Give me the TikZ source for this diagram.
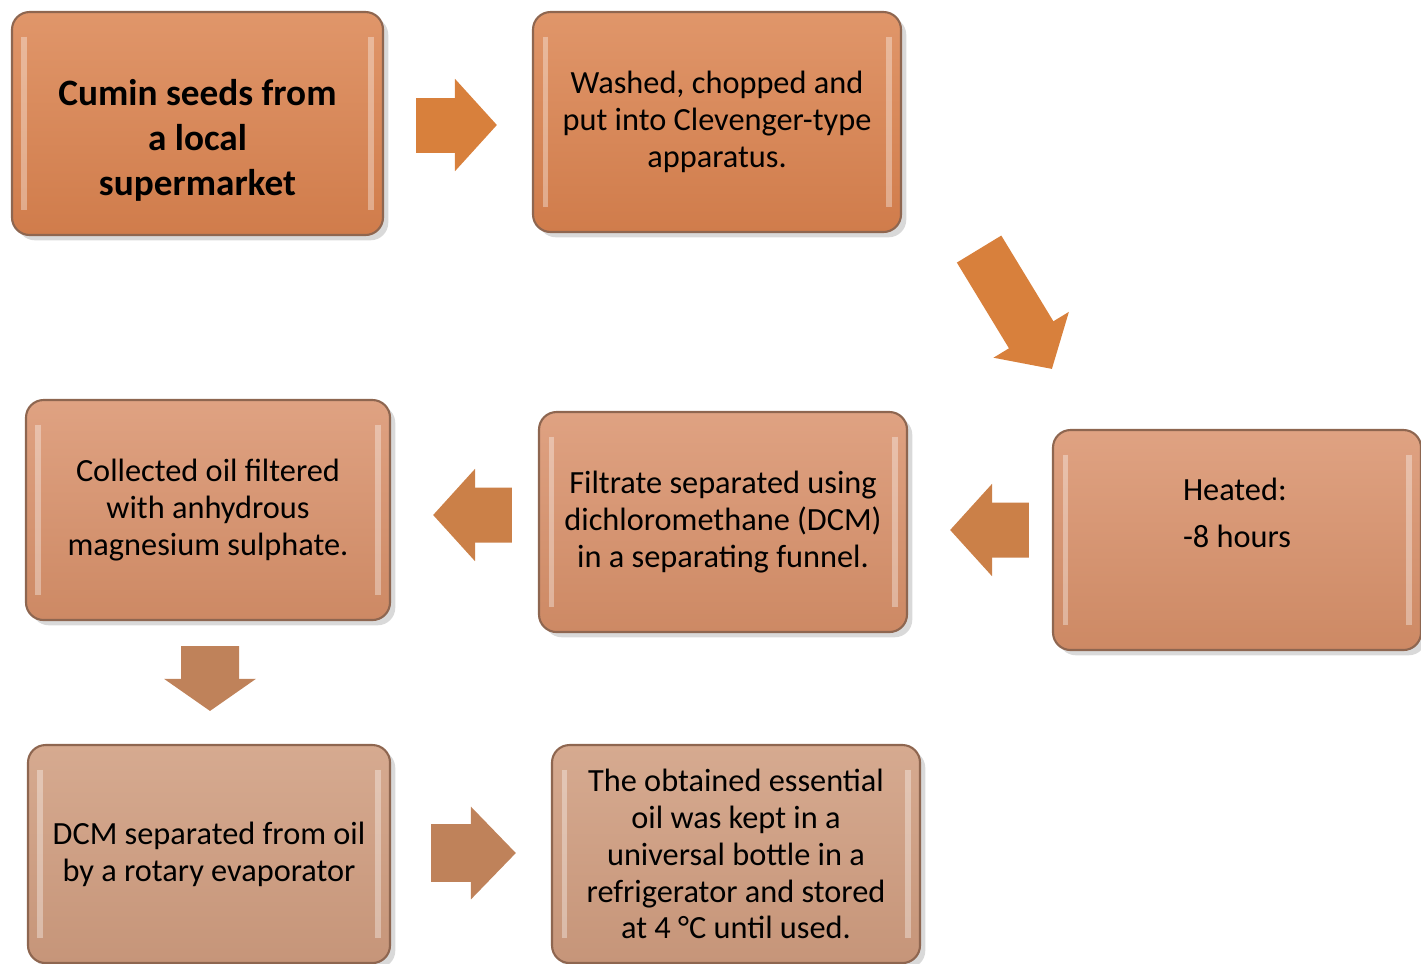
\documentclass[tikz,border=0pt]{standalone}
\usepackage{fontspec}
\setmainfont{Carlito}
\usetikzlibrary{arrows.meta,shadows}

\definecolor{hotTop}{HTML}{E0966A}
\definecolor{hotBot}{HTML}{D07C4B}
\definecolor{warmTop}{HTML}{DFA282}
\definecolor{warmBot}{HTML}{CD8964}
\definecolor{paleTop}{HTML}{D6AA90}
\definecolor{paleBot}{HTML}{C69579}
\definecolor{boxedge}{HTML}{8E6650}
\definecolor{arrHot}{HTML}{D8803C}
\definecolor{arrWarm}{HTML}{CB8048}
\definecolor{arrPale}{HTML}{BF825A}

\begin{document}
\begin{tikzpicture}[every node/.style={font=\fontsize{9.2}{10.5}\selectfont},
  box/.style={draw=boxedge,line width=0.6pt,rounded corners=5pt,minimum width=3.68cm,minimum height=2.2cm,align=center,
    drop shadow={shadow xshift=1.5pt,shadow yshift=-1.5pt,opacity=0.3},
    path picture={
      \draw[white,opacity=0.35,line width=1.6pt] ([xshift=3.5pt,yshift=-7pt]path picture bounding box.north west) -- ([xshift=3.5pt,yshift=7pt]path picture bounding box.south west);
      \draw[white,opacity=0.35,line width=1.6pt] ([xshift=-3.5pt,yshift=-7pt]path picture bounding box.north east) -- ([xshift=-3.5pt,yshift=7pt]path picture bounding box.south east);}},
  hot/.style={box,top color=hotTop,bottom color=hotBot},
  warm/.style={box,top color=warmTop,bottom color=warmBot},
  pale/.style={box,top color=paleTop,bottom color=paleBot},
  flow/.style={line width=5.5mm,-{Triangle[length=4.2mm,width=9mm]}}]
\useasboundingbox (0,0) rectangle (14.21,-9.63);
% steps
\node[hot,minimum width=3.71cm,minimum height=2.23cm,font=\bfseries\fontsize{10.6}{12.8}\selectfont] (cumin) at (1.975,-1.235) {\mbox{}\\[4.4pt]Cumin seeds from\\a local\\supermarket};
\node[hot] (washed) at (7.17,-1.22) {Washed, chopped and\\put into Clevenger-type\\apparatus.};
\node[warm] (heated) at (12.37,-5.40) {\begin{tabular}{@{}l@{}}Heated:\\[2.9pt]-8 hours\\[2.9pt]\mbox{}\end{tabular}};
\node[warm] (filtrate) at (7.23,-5.22) {Filtrate separated using\\dichloromethane (DCM)\\in a separating funnel.};
\node[warm,minimum width=3.64cm] (collected) at (2.08,-5.10) {Collected oil filtered\\with anhydrous\\magnesium sulphate.};
\node[pale,minimum width=3.62cm,minimum height=2.18cm] (dcm) at (2.09,-8.54) {DCM separated from oil\\by a rotary evaporator};
\node[pale,minimum height=2.18cm] (stored) at (7.36,-8.54) {The obtained essential\\oil was kept in a\\universal bottle in a\\refrigerator and stored\\at 4 °C until used.};
% arrows
\draw[flow,arrHot] ([xshift=0.32cm,yshift=-0.015cm]cumin.east) -- ([xshift=-0.35cm,yshift=-0.03cm]washed.west);
\draw[flow,arrHot,line width=5.2mm,-{Triangle[length=4mm,width=8.6mm]}] ([xshift=0.77cm,yshift=-0.16cm]washed.south east) -- ([yshift=0.60cm]heated.north west);
\draw[flow,arrWarm] ([xshift=-0.23cm,yshift=0.10cm]heated.west) -- ([xshift=0.42cm,yshift=-0.08cm]filtrate.east);
\draw[flow,arrWarm] ([xshift=-0.26cm,yshift=0.07cm]filtrate.west) -- ([xshift=0.42cm,yshift=-0.05cm]collected.east);
\draw[flow,arrPale,line width=5.8mm,-{Triangle[length=3.2mm,width=9mm]}] ([xshift=0.02cm,yshift=-0.25cm]collected.south) -- ([xshift=0.01cm,yshift=0.33cm]dcm.north);
\draw[flow,arrPale,line width=5.8mm,-{Triangle[length=4.5mm,width=9mm]}] ([xshift=0.40cm,yshift=0.01cm]dcm.east) -- ([xshift=-0.35cm,yshift=0.01cm]stored.west);
\end{tikzpicture}
\end{document}
